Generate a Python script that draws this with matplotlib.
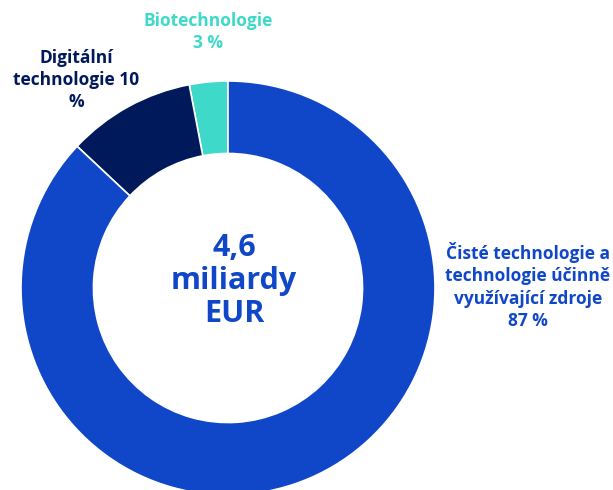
import matplotlib.pyplot as plt

# hodnoty v procentech
kategorie = ['Biotechnologie', 'Digitální technologie', 'Čisté technologie a technologie účinně využívající zdroje']
podily = [3, 10, 87]
barvy = ['#3fd9c9', '#00195a', '#1046c8']
popisky = ['Biotechnologie\n3 %', 'Digitální\ntechnologie 10\n%',
           'Čisté technologie a\ntechnologie účinně\nvyužívající zdroje\n87 %']
stred_text = '4,6\nmiliardy\nEUR'

plt.rcParams['font.family'] = ['Open Sans', 'DejaVu Sans']

fig = plt.figure(figsize=(6.13, 4.9), dpi=100)
ax = fig.add_axes([0, 0, 1, 1])

R = 207
ax.pie(podily, colors=barvy, startangle=90, counterclock=True, center=(228, 202),
       radius=R, wedgeprops=dict(width=R * 0.35, edgecolor='white', linewidth=1.2),
       frame=True)
ax.set_xlim(0, 613)
ax.set_ylim(0, 490)
ax.set_aspect('equal')
ax.axis('off')

ax.text(208, 458, popisky[0], color=barvy[0], ha='center', va='center',
        fontsize=12.5, fontweight='bold', linespacing=1.3)
ax.text(76, 410, popisky[1], color=barvy[1], ha='center', va='center',
        fontsize=12.5, fontweight='bold', linespacing=1.3)
ax.text(528, 204, popisky[2], color=barvy[2], ha='center', va='center',
        fontsize=12.5, fontweight='bold', linespacing=1.3)
ax.text(234, 209, stred_text, color=barvy[2], ha='center', va='center',
        fontsize=22, fontweight='bold', linespacing=1.15)

fig.savefig('out.png', dpi=100)
